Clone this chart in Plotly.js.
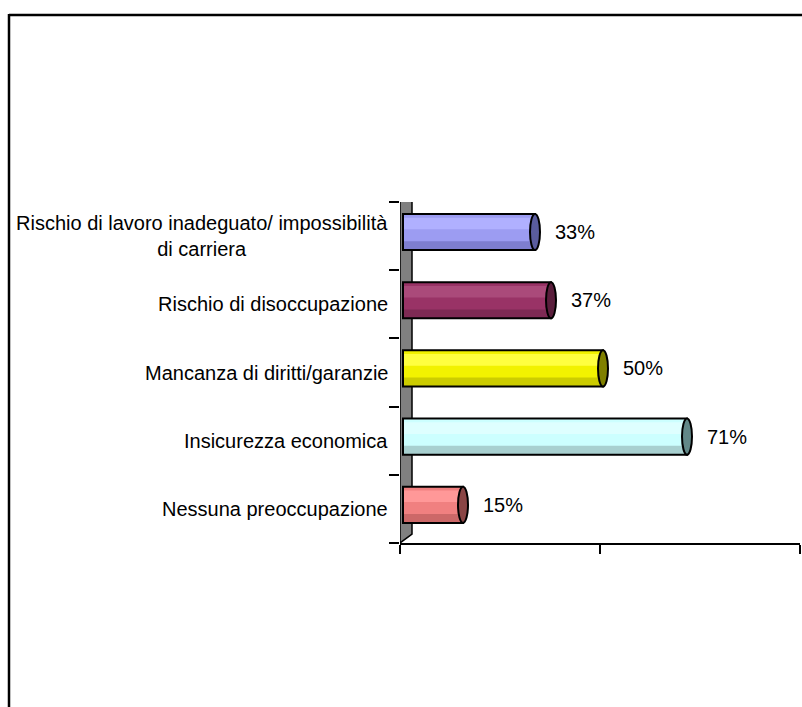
<!DOCTYPE html>
<html><head><meta charset="utf-8">
<script src="https://cdn.plot.ly/plotly-3.0.1.min.js"></script>
<style>html,body{margin:0;padding:0;background:#fff}#chart{width:802px;height:707px}</style>
</head><body><div id="chart"></div>
<script>
// ---- data ----
const categories = [
  "Rischio di lavoro inadeguato/ impossibilità<br>di carriera",
  "Rischio di disoccupazione",
  "Mancanza di diritti/garanzie",
  "Insicurezza economica",
  "Nessuna preoccupazione"
];
const values = [0.33, 0.37, 0.50, 0.71, 0.15];
const valueLabels = ["33%", "37%", "50%", "71%", "15%"];
const xTickVals = [0, 0.5, 1];

// ---- styles ----
const bodyColors   = ["#9C9CF2", "#993366", "#F2F200", "#CCFFFF", "#F08080"];
const topColors    = ["#B0B0FF", "#AA4A7A", "#FFFF40", "#DEFFFF", "#FF9898"];
const bottomColors = ["#7E7ED0", "#7E2A54", "#CCCC00", "#A8D0D0", "#CC6868"];
const capColors    = ["#5A5C9E", "#5A1E3C", "#808000", "#628888", "#8A4545"];

const W = 802, H = 707;
const ml = 400, mr = 2, mt = 202, mb = 164;
const plotW = W - ml - mr, plotH = H - mt - mb;
const px2paperX = p => (p - ml) / plotW;
const px2paperY = p => (mt + plotH - p) / plotH;

const n = categories.length;
const pos = categories.map((c, i) => n - 1 - i);
const barW = 0.53;
const font = {family: "'Liberation Sans', Arial, sans-serif", size: 20, color: "#000"};

const common = {type: 'bar', orientation: 'h', x: values, y: pos, xaxis: 'x2', yaxis: 'y2', hoverinfo: 'none', showlegend: false};
const traces = [
  Object.assign({}, common, {width: barW, offset: -barW/2, marker: {color: bodyColors, line: {width: 0}}}),
  Object.assign({}, common, {width: 0.17, offset: 0.04, marker: {color: topColors, line: {width: 0}}}),
  Object.assign({}, common, {width: 0.13, offset: -barW/2, marker: {color: bottomColors, line: {width: 0}}}),
  Object.assign({}, common, {width: barW, offset: -barW/2, marker: {color: 'rgba(0,0,0,0)', line: {width: 2, color: '#000'}}})
];

const capHalf = 0.0125;
const shapes = [];
// 3D wall
const rise = 0.13, wallDepth = 0.03;
shapes.push({type: 'path', xref: 'x', yref: 'y', layer: 'below',
  path: `M 0,-0.5 L 0,${n-0.5} L ${wallDepth},${n-0.5+rise} L ${wallDepth},${-0.5+rise} Z`,
  fillcolor: '#808080', line: {color: '#000', width: 1.5}});
// cylinder caps
values.forEach((v, i) => {
  shapes.push({type: 'circle', xref: 'x2', yref: 'y2', layer: 'above',
    x0: v - capHalf, x1: v + capHalf, y0: pos[i] - barW/2, y1: pos[i] + barW/2,
    fillcolor: capColors[i], line: {color: '#000', width: 2}});
});
// outer border (top + left)
shapes.push({type: 'line', xref: 'paper', yref: 'paper', x0: px2paperX(9), x1: px2paperX(W+5), y0: px2paperY(15), y1: px2paperY(15), line: {color: '#000', width: 2.5}});
shapes.push({type: 'line', xref: 'paper', yref: 'paper', x0: px2paperX(9), x1: px2paperX(9), y0: px2paperY(14), y1: px2paperY(H+5), line: {color: '#000', width: 2.5}});

const annotations = [];
categories.forEach((c, i) => {
  annotations.push({xref: 'x', yref: 'y', x: 0, y: pos[i], text: c, showarrow: false,
    xanchor: 'right', yanchor: 'middle', align: 'center', xshift: -10, font: font});
  annotations.push({xref: 'x2', yref: 'y2', x: values[i], y: pos[i], text: valueLabels[i], showarrow: false,
    xanchor: 'left', yanchor: 'middle', xshift: 18, font: font});
});

const layout = {
  width: W, height: H,
  margin: {l: ml, r: mr, t: mt, b: mb, pad: 0},
  paper_bgcolor: '#fff', plot_bgcolor: 'rgba(0,0,0,0)',
  barmode: 'overlay', showlegend: false, font: font,
  xaxis: {range: [0, 1], tickvals: xTickVals, showticklabels: false, ticks: 'outside', ticklen: 9, tickwidth: 2, tickcolor: '#000',
    showline: true, linecolor: '#000', linewidth: 2, showgrid: false, zeroline: false, fixedrange: true},
  yaxis: {range: [-0.5, n - 0.5], tickvals: pos.map(p => p - 0.5).concat([n - 0.5]), showticklabels: false, ticks: 'outside', ticklen: 10, tickwidth: 2, tickcolor: '#000',
    showline: false, showgrid: false, zeroline: false, fixedrange: true},
  xaxis2: {overlaying: 'x', anchor: 'y2', range: [-0.0075, 0.9925], visible: false, fixedrange: true},
  yaxis2: {overlaying: 'y', anchor: 'x2', range: [-0.56, n - 0.56], visible: false, fixedrange: true},
  shapes: shapes,
  annotations: annotations
};

Plotly.newPlot('chart', traces, layout, {displayModeBar: false, staticPlot: true});
</script>
</body></html>
